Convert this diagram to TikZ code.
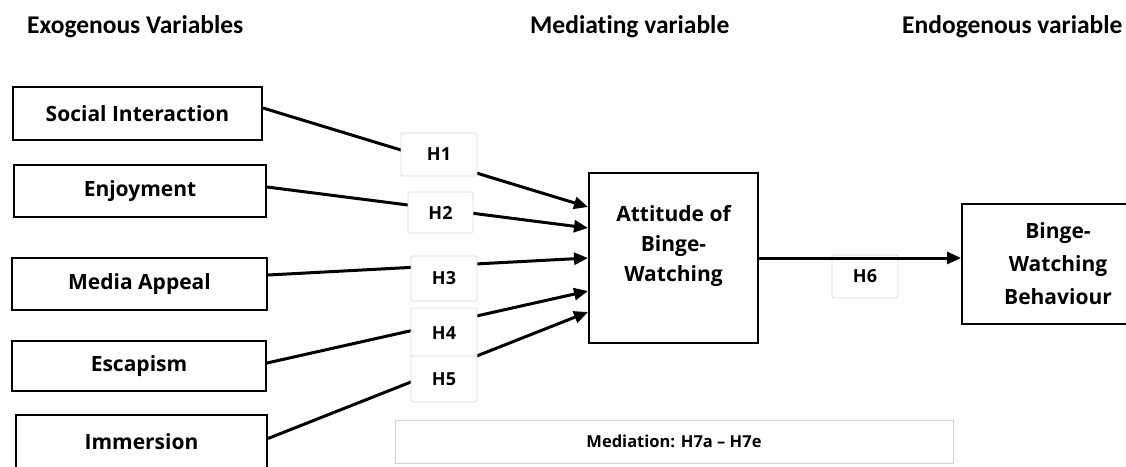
\documentclass[tikz,border=0pt]{standalone}
\usepackage{fontspec}
\setmainfont{Open Sans}
\newfontfamily\hdrfont[Ligatures=NoCommon]{Carlito}
\usetikzlibrary{arrows.meta}
\begin{document}
\begin{tikzpicture}[x=1pt,y=-1pt,
  hdr/.style={inner sep=0pt, font=\hdrfont\fontsize{25.5}{28}\selectfont\bfseries},
  varbox/.style={draw, line width=2pt, fill=white, inner sep=0pt, font=\fontsize{21}{25}\selectfont\bfseries},
  lbl/.style={inner sep=0pt, align=center},
  hbox/.style={draw=gray!30, line width=0.8pt, fill=white, rounded corners=1.5pt, inner sep=0pt, font=\fontsize{18}{20}\selectfont\bfseries},
  conn/.style={line width=3pt, -{Triangle[length=14pt,width=12pt]}}
]
\useasboundingbox (0,0) rectangle (1126,466);
\clip (0,0) rectangle (1126,466);

% headers
\node[hdr, anchor=base west] (hx) at (27,33) {Exogenous Variables};
\node[hdr, anchor=base west] (hm) at (530,33) {Mediating variable};
\node[hdr, anchor=base west] (hn) at (902,33) {Endogenous variable};

% exogenous boxes
\node[varbox, minimum width=249pt, minimum height=53pt] (si) at (137.5,113.5) {Social Interaction};
\node[varbox, minimum width=252pt, minimum height=52pt] (en) at (140,191) {Enjoyment};
\node[varbox, minimum width=255pt, minimum height=52pt] (ma) at (139.5,284) {Media Appeal};
\node[varbox, minimum width=254pt, minimum height=50pt] (es) at (139,366) {Escapism};
\node[varbox, minimum width=251pt, minimum height=54pt] (im) at (141.5,442) {Immersion};

% mediator
\node[varbox, minimum width=169pt, minimum height=170pt] (att) at (673.5,258) {};
\node[lbl, font=\fontsize{21}{30}\selectfont\bfseries] (attl) at (673.5,246) {Attitude of\\Binge-\\Watching};

% endogenous
\node[varbox, minimum width=192pt, minimum height=120pt, align=center, font=\fontsize{21}{33}\selectfont\bfseries] (bw) at (1058,264) {Binge-\\Watching\\Behaviour};

% connectors
\draw[conn] ([yshift=5.5pt]si.east) -- ([yshift=51pt]att.west);
\draw[conn] ([yshift=4pt]en.east) -- ([yshift=30pt]att.west);
\draw[conn] ([yshift=9pt]ma.east) -- ([yshift=0pt]att.west);
\draw[conn] ([yshift=3pt]es.east) -- ([yshift=-33pt]att.west);
\draw[conn] ([yshift=3.5pt]im.east) -- ([yshift=-54pt]att.west);

% hypothesis labels
\node[hbox, minimum width=76pt, minimum height=43pt] (h1) at (439,154.5) {H1};
\node[hbox, minimum width=65pt, minimum height=41pt] (h2) at (440.5,212.5) {H2};
\node[hbox, minimum width=66pt, minimum height=45pt] (h3) at (444,278.5) {H3};
\node[hbox, minimum width=66pt, minimum height=50pt] (h4) at (444,333) {H4};
\node[hbox, minimum width=66pt, minimum height=46pt] (h5) at (444,379) {H5};

\node[hbox, minimum width=66pt, minimum height=43pt] (h6) at (865,276.5) {H6};
\draw[conn] (att.east) -- (att.east -| bw.west);

% mediation
\node[draw=gray!35, line width=1pt, fill=white, minimum width=558pt, minimum height=43pt, inner sep=0pt, font=\fontsize{16.5}{18}\selectfont\bfseries] (med) at (674,441.5) {Mediation: H7a – H7e};
\end{tikzpicture}
\end{document}
